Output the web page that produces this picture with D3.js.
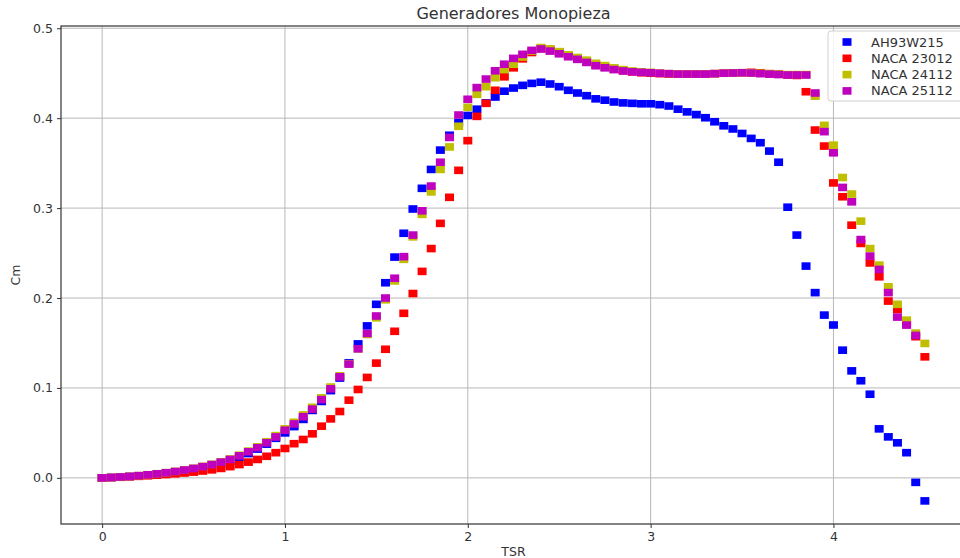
<!DOCTYPE html>
<html>
<head>
<meta charset="utf-8">
<script src="https://cdn.jsdelivr.net/npm/d3@7"></script>
<style>
  html, body { margin: 0; padding: 0; background: #fff; }
  svg { display: block; font-family: 'DejaVu Sans', sans-serif; }
</style>
</head>
<body>
<svg id="chart"></svg>
<script>
// TSR goes from 0 to 4.5 in steps of 0.05 (91 samples)
const tsr = d3.range(91).map(i => +(i * 0.05).toFixed(2))

const seriesNames = ['AH93W215', 'NACA 23012', 'NACA 24112', 'NACA 25112']
const seriesColors = ['#0000ff', '#ff0000', '#bfbf00', '#bf00bf']

const cmAH93W215 = [
  0, 0.0004, 0.0009, 0.0015, 0.0022, 0.003, 0.004, 0.0051, 0.0064, 0.0078,
  0.0094, 0.0112, 0.0132, 0.0155, 0.0185, 0.0225, 0.027, 0.032, 0.0375, 0.044,
  0.050, 0.057, 0.065, 0.075, 0.085, 0.097, 0.111, 0.128, 0.149, 0.169,
  0.193, 0.217, 0.2455, 0.272, 0.299, 0.322, 0.343, 0.3645, 0.381, 0.395,
  0.403, 0.410, 0.417, 0.4235, 0.430, 0.4335, 0.4365, 0.4387, 0.440, 0.438,
  0.435, 0.431, 0.428, 0.425, 0.4215, 0.420, 0.418, 0.417, 0.4165, 0.416,
  0.416, 0.415, 0.4135, 0.410, 0.407, 0.404, 0.4005, 0.396, 0.3915, 0.388,
  0.383, 0.3775, 0.3727, 0.3634, 0.351, 0.301, 0.270, 0.2355, 0.206, 0.181,
  0.170, 0.142, 0.119, 0.108, 0.093, 0.0545, 0.0456, 0.039, 0.028, -0.005,
  -0.0256
]

const cmNACA23012 = [
  0, 0.0003, 0.0007, 0.0012, 0.0017, 0.0023, 0.003, 0.0037, 0.0045, 0.0054,
  0.0064, 0.0076, 0.0089, 0.0105, 0.0125, 0.0148, 0.0175, 0.0205, 0.024, 0.028,
  0.0327, 0.038, 0.0427, 0.049, 0.0575, 0.0656, 0.0738, 0.0864, 0.0983, 0.1117,
  0.1276, 0.143, 0.163, 0.183, 0.205, 0.2296, 0.255, 0.283, 0.312, 0.342,
  0.375, 0.402, 0.4165, 0.431, 0.446, 0.456, 0.466, 0.473, 0.4775, 0.4765,
  0.4735, 0.470, 0.4665, 0.463, 0.4595, 0.457, 0.4545, 0.4528, 0.4515, 0.4505,
  0.450, 0.4495, 0.449, 0.449, 0.449, 0.449, 0.4492, 0.4495, 0.450, 0.4502,
  0.4505, 0.451, 0.4505, 0.4495, 0.449, 0.448, 0.4475, 0.4294, 0.3868, 0.369,
  0.328, 0.3126, 0.281, 0.2607, 0.239, 0.2236, 0.1966, 0.1873, 0.172, 0.157,
  0.1346
]

const cmNACA24112 = [
  0, 0.0005, 0.001, 0.0017, 0.0025, 0.0035, 0.0046, 0.0058, 0.0072, 0.0089,
  0.0107, 0.0128, 0.0151, 0.0178, 0.021, 0.0252, 0.0298, 0.0345, 0.0402, 0.047,
  0.0545, 0.0618, 0.070, 0.0785, 0.089, 0.101, 0.1135, 0.127, 0.1435, 0.1595,
  0.178, 0.198, 0.219, 0.243, 0.268, 0.293, 0.318, 0.343, 0.368, 0.391,
  0.412, 0.4265, 0.435, 0.445, 0.454, 0.460, 0.468, 0.4745, 0.4785, 0.477,
  0.474, 0.4705, 0.4675, 0.4645, 0.461, 0.4585, 0.456, 0.454, 0.4525, 0.4515,
  0.451, 0.450, 0.4495, 0.449, 0.449, 0.449, 0.449, 0.4495, 0.450, 0.450,
  0.4505, 0.4505, 0.450, 0.4495, 0.449, 0.4485, 0.4485, 0.4485, 0.4245, 0.392,
  0.370, 0.334, 0.3156, 0.2855, 0.255, 0.2366, 0.2125, 0.193, 0.1754, 0.161,
  0.1495
]

// last TSR sample (4.5) is missing for this profile
const cmNACA25112 = [
  0, 0.0005, 0.001, 0.0017, 0.0025, 0.0034, 0.0045, 0.0057, 0.0071, 0.0087,
  0.0105, 0.0125, 0.0148, 0.0175, 0.0205, 0.0245, 0.029, 0.0335, 0.039, 0.0455,
  0.053, 0.060, 0.068, 0.0764, 0.087, 0.099, 0.1124, 0.1265, 0.1435, 0.1606,
  0.180, 0.200, 0.222, 0.246, 0.270, 0.297, 0.3245, 0.351, 0.3786, 0.4035,
  0.421, 0.434, 0.4435, 0.4527, 0.460, 0.4665, 0.471, 0.4754, 0.4769, 0.4746,
  0.4716, 0.4683, 0.4654, 0.462, 0.4583, 0.456, 0.454, 0.4525, 0.4515, 0.451,
  0.4505, 0.450, 0.4495, 0.449, 0.449, 0.449, 0.449, 0.4495, 0.450, 0.4502,
  0.4505, 0.4502, 0.4495, 0.449, 0.4485, 0.448, 0.448, 0.448, 0.428, 0.385,
  0.3615, 0.323, 0.307, 0.265, 0.2466, 0.2318, 0.206, 0.1788, 0.1699, 0.1584
]

const xTicks = [0, 1, 2, 3, 4]
const yTicks = [0.0, 0.1, 0.2, 0.3, 0.4, 0.5]

const allSeries = [cmAH93W215, cmNACA23012, cmNACA24112, cmNACA25112]

const width = 960
const height = 558
const box = { left: 61, top: 26, right: 966, bottom: 524 }

const svg = d3.select('#chart')
  .attr('width', width)
  .attr('height', height)

svg.append('rect')
  .attr('width', width)
  .attr('height', height)
  .attr('fill', '#fff')

const x = d3.scaleLinear().domain([-0.225, 4.725]).range([box.left, box.right])
const y = d3.scaleLinear().domain([-0.0513, 0.5025]).range([box.bottom, box.top])

// grid
svg.append('g')
  .selectAll('line')
  .data(xTicks)
  .enter().append('line')
  .attr('x1', d => x(d)).attr('x2', d => x(d))
  .attr('y1', box.top).attr('y2', box.bottom)
  .attr('stroke', '#b8b8b8')
  .attr('stroke-width', 1)

svg.append('g')
  .selectAll('line')
  .data(yTicks)
  .enter().append('line')
  .attr('x1', box.left).attr('x2', box.right)
  .attr('y1', d => y(d)).attr('y2', d => y(d))
  .attr('stroke', '#b8b8b8')
  .attr('stroke-width', 1)

// axes
const xAxis = d3.axisBottom(x).tickValues(xTicks).tickFormat(d3.format('d')).tickSize(4).tickPadding(4)
const yAxis = d3.axisLeft(y).tickValues(yTicks).tickFormat(d3.format('.1f')).tickSize(4).tickPadding(4)

const gx = svg.append('g')
  .attr('transform', `translate(0,${box.bottom})`)
  .call(xAxis)
const gy = svg.append('g')
  .attr('transform', `translate(${box.left},0)`)
  .call(yAxis)

;[gx, gy].forEach(g => {
  g.select('.domain').remove()
  g.selectAll('.tick line').attr('stroke', '#333').attr('stroke-width', 1)
  g.selectAll('.tick text')
    .attr('fill', '#333')
    .style('font-size', '12.5px')
    .style('font-family', "'DejaVu Sans', sans-serif")
})

// spines
svg.append('rect')
  .attr('x', box.left)
  .attr('y', box.top)
  .attr('width', box.right - box.left)
  .attr('height', box.bottom - box.top)
  .attr('fill', 'none')
  .attr('stroke', '#333')
  .attr('stroke-width', 1.2)

// points
const markW = 9
const markH = 7.6
allSeries.forEach((values, s) => {
  svg.append('g')
    .selectAll('rect')
    .data(values)
    .enter().append('rect')
    .attr('x', (d, i) => x(tsr[i]) - markW / 2)
    .attr('y', d => y(d) - markH / 2)
    .attr('width', markW)
    .attr('height', markH)
    .attr('fill', seriesColors[s])
})

// title and labels
svg.append('text')
  .attr('x', (box.left + box.right) / 2)
  .attr('y', 19)
  .attr('text-anchor', 'middle')
  .attr('fill', '#333')
  .style('font-size', '16px')
  .text('Generadores Monopieza')

svg.append('text')
  .attr('x', (box.left + box.right) / 2)
  .attr('y', 556)
  .attr('text-anchor', 'middle')
  .attr('fill', '#333')
  .style('font-size', '12.5px')
  .text('TSR')

svg.append('text')
  .attr('transform', `translate(20,${(box.top + box.bottom) / 2}) rotate(-90)`)
  .attr('text-anchor', 'middle')
  .attr('fill', '#333')
  .style('font-size', '12.5px')
  .text('Cm')

// legend
const legend = svg.append('g').attr('transform', 'translate(828,31)')
legend.append('rect')
  .attr('width', 140)
  .attr('height', 70)
  .attr('rx', 3)
  .attr('fill', '#fff')
  .attr('fill-opacity', 0.85)
  .attr('stroke', '#d0d0d0')

seriesNames.forEach((name, i) => {
  const row = legend.append('g').attr('transform', `translate(0,${11 + i * 16.3})`)
  row.append('rect')
    .attr('x', 19 - markW / 2)
    .attr('y', -markH / 2)
    .attr('width', markW)
    .attr('height', markH)
    .attr('fill', seriesColors[i])
  row.append('text')
    .attr('x', 43)
    .attr('y', 4.5)
    .attr('fill', '#333')
    .style('font-size', '13px')
    .text(name)
})
</script>
</body>
</html>
